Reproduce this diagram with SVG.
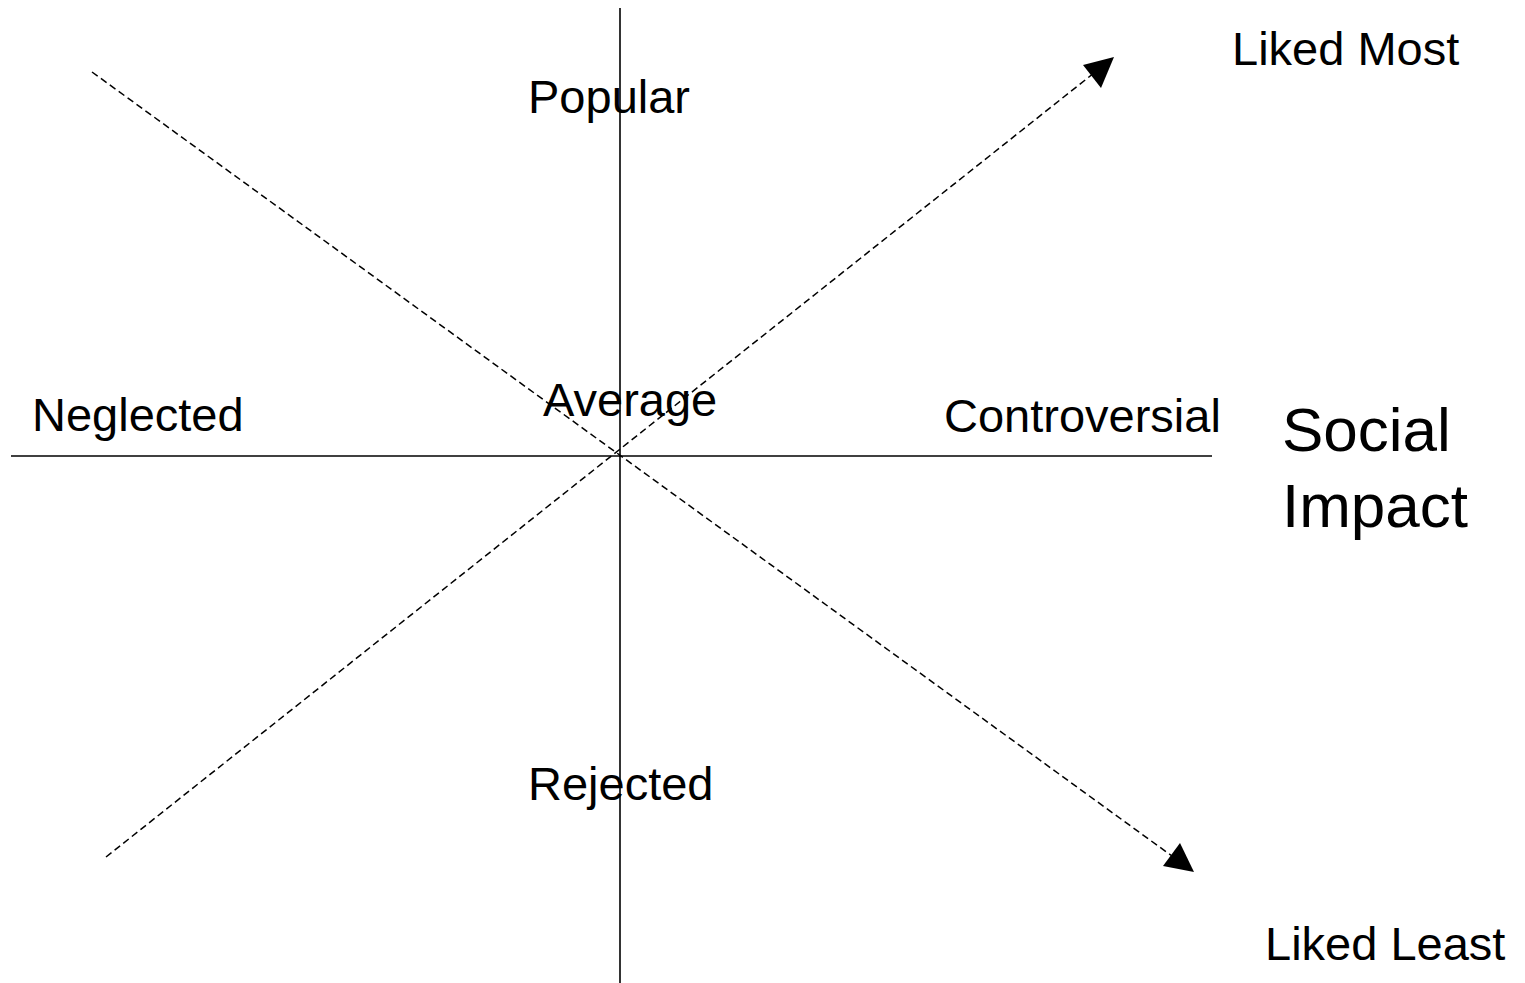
<svg xmlns="http://www.w3.org/2000/svg" width="1525" height="983" viewBox="0 0 1525 983">
<style>
text{font-family:"Liberation Sans",Arial,sans-serif;fill:#000;font-size:47px}
.big{font-size:62px}
.axis{stroke:#000;stroke-width:1.6;fill:none}
.dash{stroke:#000;stroke-width:1.5;stroke-dasharray:7 4;fill:none}
.head{fill:#000;stroke:none}
</style>
<rect width="1525" height="983" fill="#fff"/>
<g id="connectors">
<line class="axis" x1="620" y1="8" x2="620" y2="983"/>
<line class="axis" x1="11" y1="456" x2="1212" y2="456"/>
<line class="dash" x1="92" y1="72" x2="1172" y2="856"/>
<line class="dash" x1="106" y1="857" x2="1094" y2="73"/>
<polygon class="head" points="1114,57 1083,65 1101,88"/>
<polygon class="head" points="1194,872 1180,843 1163,866"/>
</g>
<g id="liked-most"><text x="1232" y="65">Liked Most</text></g>
<g id="popular"><text x="528" y="113">Popular</text></g>
<g id="neglected"><text x="32" y="431">Neglected</text></g>
<g id="average"><text x="543" y="416">Average</text></g>
<g id="controversial"><text x="944" y="432">Controversial</text></g>
<g id="social-impact"><text class="big" x="1282" y="451">Social</text><text class="big" x="1282" y="527">Impact</text></g>
<g id="rejected"><text x="528" y="800">Rejected</text></g>
<g id="liked-least"><text x="1265" y="960">Liked Least</text></g>
</svg>
